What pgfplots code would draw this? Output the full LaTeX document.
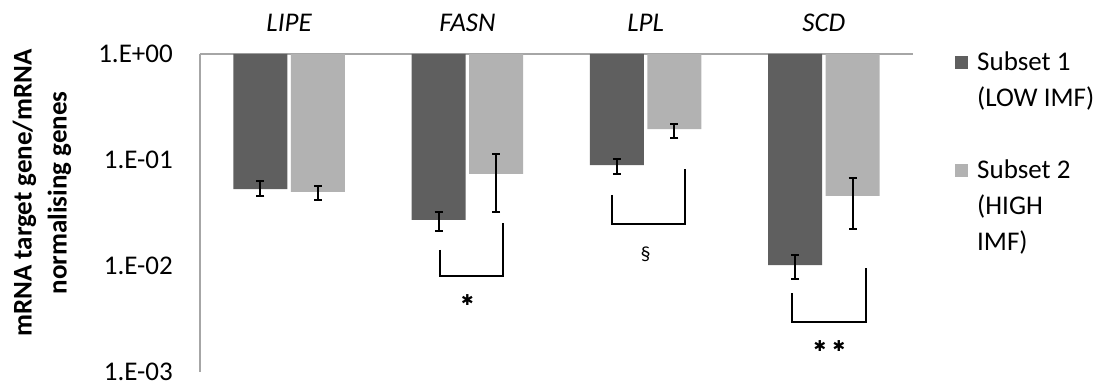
\documentclass[border=0pt]{standalone}
\usepackage{pgfplots}
\pgfplotsset{compat=1.18}
\usepackage{pgfplotstable}
\usepackage{fontspec}
\setmainfont{Carlito}
\newfontfamily\dejavu{DejaVu Sans}
\definecolor{darkbar}{HTML}{5F5F5F}
\definecolor{lightbar}{HTML}{B2B2B2}
\definecolor{axisgray}{HTML}{A6A6A6}

\pgfplotstableread{
x y ep em
0 0.0530 0.0104 0.0073
1 0.0272 0.0052 0.0058
2 0.0897 0.0123 0.0157
3 0.0102 0.0025 0.0027
}\subsetone
\pgfplotstableread{
x y ep em
0 0.0500 0.0069 0.0080
1 0.0738 0.0402 0.0414
2 0.1960 0.0230 0.0350
3 0.0458 0.0218 0.0234
}\subsettwo

\begin{document}
\fontsize{27bp}{35bp}\selectfont
\begin{tikzpicture}
\path[use as bounding box] (-200bp,-15bp) rectangle (910bp,372bp);
\begin{axis}[
  at={(0,0)}, anchor=south west,
  scale only axis, width=713bp, height=318bp,
  ymode=log, ymin=1e-3, ymax=1,
  xmin=-0.5, xmax=3.5,
  ybar=3.5bp, bar width=54bp,
  clip=false,
  axis x line*=top, axis y line*=left,
  axis line style={axisgray, line width=1.5bp},
  xtick={0,1,2,3}, xticklabels={LIPE,FASN,LPL,SCD},
  xticklabel style={font=\itshape, yshift=13bp},
  ytick={1e-3,1e-2,1e-1,1}, yticklabels={1.E-03,1.E-02,1.E-01,1.E+00},
  yticklabel style={xshift=-18bp},
  minor tick num=0,
  major tick length=0pt, minor tick length=0pt,
  every axis y label/.style={at={(axis description cs:-0.2216,0.563)}, rotate=90, anchor=center, align=center, font=\bfseries},
  ylabel={mRNA target gene/mRNA\\normalising genes},
  legend cell align=left,
  legend style={at={(axis description cs:1.0589,1.0135)}, anchor=north west, draw=none, fill=none, inner sep=0pt, row sep=10bp, column sep=9bp,
    nodes={inner sep=0pt, text height=21bp, text depth=5bp, anchor=west}},
]
\addplot[fill=darkbar, draw=none,
  legend image code/.code={\fill[darkbar] (0bp,-6.5bp) rectangle (13bp,6.5bp);},
  error bars/.cd, y dir=both, y explicit,
  error bar style={black, line width=2bp},
  error mark options={rotate=90, black, mark size=4bp, line width=2bp}]
  table[x=x, y=y, y error plus=ep, y error minus=em] {\subsetone};
\addlegendentry{Subset 1}
\addlegendimage{empty legend}
\addlegendentry{(LOW IMF)}
\addlegendimage{empty legend}
\addlegendentry{\phantom{X}}
\addplot[fill=lightbar, draw=none,
  legend image code/.code={\fill[lightbar] (0bp,-6.5bp) rectangle (13bp,6.5bp);},
  error bars/.cd, y dir=both, y explicit,
  error bar style={black, line width=2bp},
  error mark options={rotate=90, black, mark size=4bp, line width=2bp}]
  table[x=x, y=y, y error plus=ep, y error minus=em] {\subsettwo};
\addlegendentry{Subset 2}
\addlegendimage{empty legend}
\addlegendentry{(HIGH}
\addlegendimage{empty legend}
\addlegendentry{IMF)}

\draw[black, line width=2bp] (axis cs:0.846,0.01416) |- (axis cs:1.20,0.00805) -- (axis cs:1.20,0.0255);
\draw[black, line width=2bp] (axis cs:1.811,0.0468) |- (axis cs:2.221,0.0249) -- (axis cs:2.221,0.0822);
\draw[black, line width=2bp] (axis cs:2.821,0.00556) |- (axis cs:3.236,0.00296) -- (axis cs:3.236,0.00958);
\node[inner sep=0pt] at (axis cs:1.0,0.00478) {\dejavu\fontsize{15bp}{15bp}\selectfont ✱};
\node at (axis cs:2,0.013) {\fontsize{20bp}{24bp}\selectfont\S};
\node[inner sep=0pt] at (axis cs:2.978,0.00176) {\dejavu\fontsize{15bp}{15bp}\selectfont ✱};
\node[inner sep=0pt] at (axis cs:3.085,0.00176) {\dejavu\fontsize{15bp}{15bp}\selectfont ✱};
\end{axis}
\end{tikzpicture}
\end{document}
